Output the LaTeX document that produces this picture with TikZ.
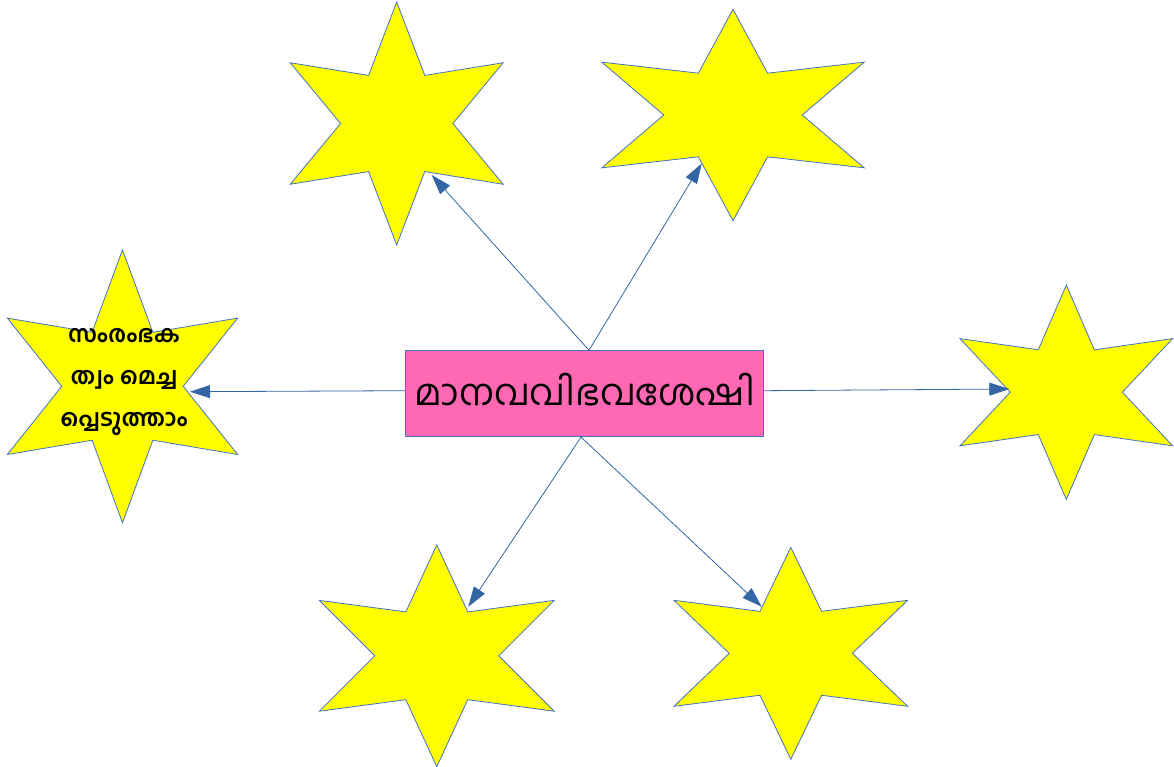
\documentclass[tikz,border=0pt]{standalone}
\usepackage{fontspec}
\newfontfamily\mlfont[Script=Malayalam]{Hind Kochi}
\usetikzlibrary{arrows.meta,positioning}
\definecolor{starfill}{RGB}{255,255,0}
\definecolor{starline}{RGB}{68,114,196}
\definecolor{boxfill}{RGB}{255,105,180}
\definecolor{arrowblue}{RGB}{52,101,164}
% six-pointed star: name, centre x, centre y, width, height
\newcommand{\hexstar}[5]{%
  \begin{scope}[shift={(#2,#3)},xscale=0.577*#4,yscale=0.5*#5]
    \draw[starshape] (90:1) -- (120:0.457) -- (150:1) -- (180:0.457) -- (210:1) -- (240:0.457)
      -- (270:1) -- (300:0.457) -- (330:1) -- (0:0.457) -- (30:1) -- (60:0.457) -- cycle;
  \end{scope}
  \coordinate (#1) at (#2,#3);}

\begin{document}
\begin{tikzpicture}[x=1pt,y=-1pt]
\tikzset{starshape/.style={draw=starline,line width=0.8pt,fill=starfill,line join=miter},
  mainbox/.style={draw=starline,line width=0.8pt,fill=boxfill,minimum width=357.6pt,minimum height=86pt,font=\mlfont\fontsize{36.5}{40}\selectfont},
  startext/.style={align=center,font=\mlfont\bfseries\fontsize{23.5}{42}\selectfont},
  link/.style={draw=arrowblue,line width=0.8pt,-{Triangle[length=20pt,width=13pt]}}}
\useasboundingbox (0,0) rectangle (1174,767);

% stars
\hexstar{sl}{122.5}{386.3}{230.4}{272.7}
\hexstar{stl}{396.7}{123.5}{213}{243}
\hexstar{str}{733}{115}{262.6}{211.4}
\hexstar{sr}{1066.3}{392.2}{212.7}{214.3}
\hexstar{sbl}{436.8}{655.8}{235}{221.7}
\hexstar{sbr}{790.8}{653.3}{233.7}{212}

\node[startext] (sl-text) at (124,382) {സംരംഭക\\ത്വം മെച്ച\\പ്പെടുത്താം};

% centre box
\node[mainbox] (hr) at (584.5,393.7) {\raisebox{8pt}{മാനവവിഭവശേഷി}};

% arrow ends
\coordinate (sl-tip) at (190,391.7);
\coordinate (stl-tip) at (431.7,175);
\coordinate (str-tip) at (701.7,163.5);
\coordinate (sr-tip) at (1009.3,389);
\coordinate (sbl-tip) at (468.3,606.7);
\coordinate (sbr-tip) at (761.7,606.7);

\draw[link] ([yshift=3pt]hr.west) -- (sl-tip);
\draw[link] ([yshift=3pt]hr.east) -- (sr-tip);
\foreach \s in {stl,str} \draw[link] ([xshift=4.5pt]hr.north) -- (\s-tip);
\foreach \s in {sbl,sbr} \draw[link] ([xshift=-3.5pt]hr.south) -- (\s-tip);
\end{tikzpicture}
\end{document}
